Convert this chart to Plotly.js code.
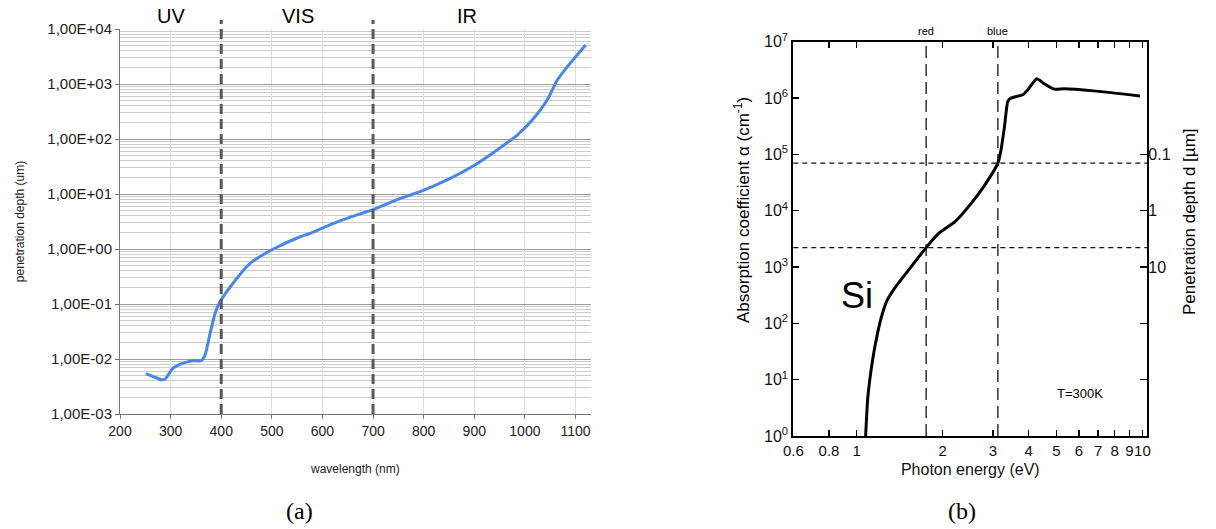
<!DOCTYPE html>
<html>
<head>
<meta charset="utf-8">
<script src="https://cdn.plot.ly/plotly-3.0.1.min.js"></script>
<style>
  html, body { margin: 0; padding: 0; background: #ffffff; }
  #chart { width: 1216px; height: 529px; }
</style>
</head>
<body>
<div id="chart"></div>
<script>
// ---------- Panel (a): penetration depth vs wavelength ----------
const wavelength = [251, 268, 282, 289, 305, 325, 345, 360, 368, 378, 388, 396, 418, 457, 503, 556, 576, 622, 655, 700, 754, 793, 846, 902, 945, 985, 1018, 1044, 1064, 1084, 1120];
const depth = [0.0054, 0.0047, 0.0042, 0.0043, 0.0068, 0.0084, 0.0093, 0.0093, 0.0118, 0.0293, 0.068, 0.103, 0.206, 0.55, 1.0, 1.67, 1.93, 2.93, 3.8, 5.2, 8.3, 11.0, 18, 34, 63, 118, 240, 510, 1180, 2065, 5100];
const wlTicks = [200, 300, 400, 500, 600, 700, 800, 900, 1000, 1100];
const depthTicks = [1e-3, 1e-2, 1e-1, 1e0, 1e1, 1e2, 1e3, 1e4];
const depthTickText = ['1,00E-03', '1,00E-02', '1,00E-01', '1,00E+00', '1,00E+01', '1,00E+02', '1,00E+03', '1,00E+04'];
const regionBounds = [400, 700];
const regionNames = ['UV', 'VIS', 'IR'];
const regionLabelX = [300, 552, 885];

// ---------- Panel (b): absorption coefficient of Si ----------
const energy = [1.075, 1.092, 1.136, 1.183, 1.231, 1.28, 1.37, 1.52, 1.75, 1.93, 2.21, 2.52, 2.81, 3.12, 3.20, 3.29, 3.38, 3.47, 3.81, 3.97, 4.27, 4.53, 4.91, 5.32, 6.75, 9.8];
const alpha = [1, 4.4, 22, 67, 151, 261, 449, 888, 2210, 3900, 6400, 13600, 28700, 69800, 120000, 310000, 870000, 1.0e6, 1.14e6, 1.4e6, 2.19e6, 1.79e6, 1.44e6, 1.46e6, 1.34e6, 1.09e6];
const energyTicks = [0.6, 0.8, 1, 2, 3, 4, 5, 6, 7, 8, 9, 10];
const energyTickText = ['0.6', '0.8', '1', '2', '3', '4', '5', '6', '7', '8', '9', '10'];
const alphaTicks = [1e0, 1e1, 1e2, 1e3, 1e4, 1e5, 1e6, 1e7];
const alphaTickText = ['10<sup>0</sup>', '10<sup>1</sup>', '10<sup>2</sup>', '10<sup>3</sup>', '10<sup>4</sup>', '10<sup>5</sup>', '10<sup>6</sup>', '10<sup>7</sup>'];
const depthAxisTicks = [1e5, 1e4, 1e3];
const depthAxisText = ['0.1', '1', '10'];
const depthAxisUnlabeled = [1e2, 1e1];
const colorEnergies = [1.75, 3.12];
const colorNames = ['red', 'blue'];
const markerAlphas = [69800, 2210];

// minor grid positions (2..9 per decade) for panel (a)
const minorDepth = [];
for (let e = -3; e < 4; e++) {
  for (let m = 2; m <= 9; m++) minorDepth.push(m * Math.pow(10, e));
}

const W = 1216, H = 529;
const domA_x = [120 / W, 590.7 / W];
const domA_y = [1 - 414 / H, 1 - 29 / H];
const domB_x = [793.3 / W, 1147.3 / W];
const domB_y = [1 - 436 / H, 1 - 41.7 / H];

const traces = [
  {
    x: wavelength, y: depth, type: 'scatter', mode: 'lines',
    line: { color: '#4a86e8', width: 3, shape: 'spline', smoothing: 0.6 },
    xaxis: 'x', yaxis: 'y', hoverinfo: 'skip'
  },
  {
    x: energy, y: alpha, type: 'scatter', mode: 'lines',
    line: { color: '#000000', width: 3, shape: 'spline', smoothing: 0.5 },
    xaxis: 'x2', yaxis: 'y2', hoverinfo: 'skip'
  },
  // empty traces so the right-hand axes are drawn
  { x: [], y: [], type: 'scatter', mode: 'lines', xaxis: 'x2', yaxis: 'y3', hoverinfo: 'skip' },
  { x: [], y: [], type: 'scatter', mode: 'lines', xaxis: 'x2', yaxis: 'y4', hoverinfo: 'skip' }
];

const shapes = [];
regionBounds.forEach(b => shapes.push({
  type: 'line', xref: 'x', yref: 'paper', x0: b, x1: b, y0: domA_y[0], y1: 1 - 20 / H,
  line: { color: '#595959', width: 3, dash: '10px,5px' }
}));
colorEnergies.forEach(e => shapes.push({
  type: 'line', xref: 'x2', yref: 'paper', x0: e, x1: e, y0: domB_y[0], y1: domB_y[1] - 4 / H,
  line: { color: '#111111', width: 1.3, dash: '12px,6px' }
}));
markerAlphas.forEach(a => shapes.push({
  type: 'line', xref: 'paper', yref: 'y2', x0: domB_x[0], x1: domB_x[1], y0: a, y1: a,
  line: { color: '#111111', width: 1.2, dash: '5px,4px' }
}));

const sans = 'Liberation Sans, Arial, sans-serif';
const annotations = [];
function addText(text, xref, x, y, size, family, angle) {
  annotations.push({
    text: text, xref: xref, yref: 'paper', x: x, y: y,
    xanchor: 'center', yanchor: 'middle', showarrow: false, textangle: angle || 0,
    font: { family: family || sans, size: size, color: '#000' }
  });
}
regionNames.forEach((n, i) => addText(n, 'x', regionLabelX[i], 1 - 16 / H, 20));
colorNames.forEach((n, i) => addText(n, 'x2', Math.log10(colorEnergies[i]), 1 - 31 / H, 11));
addText('Si', 'paper', 856.7 / W, 1 - 295 / H, 36);
addText('T=300K', 'paper', 1080 / W, 1 - 393 / H, 13);
addText('Absorption coefficient α (cm<sup>-1</sup>)', 'paper', 742 / W, 1 - 210 / H, 17, sans, -90);
addText('Penetration depth d [µm]', 'paper', 1189 / W, 1 - 222 / H, 17, sans, -90);
addText('(a)', 'paper', 299 / W, 1 - 511 / H, 24, 'Liberation Serif, DejaVu Serif, serif');
addText('(b)', 'paper', 962 / W, 1 - 511 / H, 24, 'Liberation Serif, DejaVu Serif, serif');

const layout = {
  width: W, height: H,
  margin: { l: 0, r: 0, t: 0, b: 0 },
  paper_bgcolor: '#ffffff', plot_bgcolor: '#ffffff',
  showlegend: false,
  font: { family: sans, color: '#111' },
  xaxis: {
    domain: domA_x, anchor: 'y', range: [200, 1130],
    tickmode: 'array', tickvals: wlTicks, tickangle: 0,
    ticks: 'outside', ticklen: 4, tickcolor: '#777',
    showline: true, linecolor: '#777', linewidth: 1,
    showgrid: true, gridcolor: '#dcdcdc', gridwidth: 1, zeroline: false,
    tickfont: { size: 14, color: '#222' },
    title: { text: 'wavelength (nm)', font: { size: 12, color: '#222' }, standoff: 26 }
  },
  yaxis: {
    domain: domA_y, anchor: 'x', type: 'log', range: [-3, 4],
    tickmode: 'array', tickvals: depthTicks, ticktext: depthTickText,
    ticks: 'outside', ticklen: 4, tickcolor: '#777',
    showline: true, linecolor: '#777', linewidth: 1,
    showgrid: true, gridcolor: '#9a9a9a', gridwidth: 1, zeroline: false,
    minor: { tickmode: 'array', tickvals: minorDepth, showgrid: true, gridcolor: '#cccccc', gridwidth: 1, ticks: '' },
    tickfont: { size: 15, color: '#222' },
    title: { text: 'penetration depth (um)', font: { size: 12, color: '#222' }, standoff: 20 }
  },
  xaxis2: {
    domain: domB_x, anchor: 'y2', type: 'log', range: [Math.log10(0.6), Math.log10(10.4)],
    tickmode: 'array', tickvals: energyTicks, ticktext: energyTickText, tickangle: 0,
    ticks: 'inside', ticklen: 6, tickwidth: 1.5, tickcolor: '#000',
    showline: true, linecolor: '#000', linewidth: 2, mirror: 'ticks',
    showgrid: false, zeroline: false,
    tickfont: { size: 15, color: '#111' },
    title: { text: 'Photon energy (eV)', font: { size: 16, color: '#111' }, standoff: 6 }
  },
  yaxis2: {
    domain: domB_y, anchor: 'x2', type: 'log', range: [0, 7],
    tickmode: 'array', tickvals: alphaTicks, ticktext: alphaTickText,
    ticks: 'inside', ticklen: 6, tickwidth: 1.5, tickcolor: '#000',
    showline: true, linecolor: '#000', linewidth: 2, mirror: true,
    showgrid: false, zeroline: false,
    tickfont: { size: 16, color: '#111' }
  },
  yaxis3: {
    overlaying: 'y2', anchor: 'x2', side: 'right', type: 'log', range: [0, 7],
    tickmode: 'array', tickvals: depthAxisTicks, ticktext: depthAxisText,
    ticks: 'inside', ticklen: 7, tickwidth: 1.5, tickcolor: '#000',
    showline: false, showgrid: false, zeroline: false,
    tickfont: { size: 16, color: '#111' }
  },
  yaxis4: {
    overlaying: 'y2', anchor: 'x2', side: 'right', type: 'log', range: [0, 7],
    tickmode: 'array', tickvals: depthAxisUnlabeled, showticklabels: false,
    ticks: 'inside', ticklen: 7, tickwidth: 1.5, tickcolor: '#000',
    showline: false, showgrid: false, zeroline: false
  },
  shapes: shapes,
  annotations: annotations
};

Plotly.newPlot('chart', traces, layout, { displayModeBar: false, staticPlot: true });
</script>
</body>
</html>
